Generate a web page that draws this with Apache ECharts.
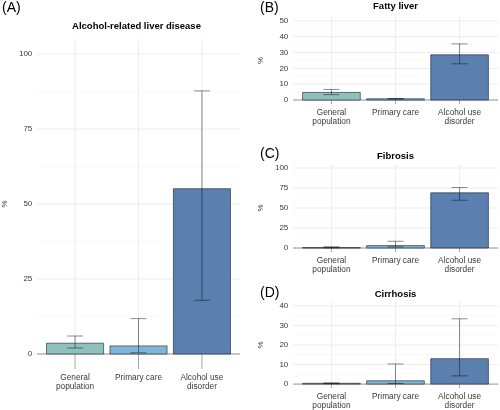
<!DOCTYPE html>
<html>
<head>
<meta charset="utf-8">
<script src="https://cdn.jsdelivr.net/npm/echarts@6/dist/echarts.min.js"></script>
<style>
html,body{margin:0;padding:0;background:#fff;}
#chart{width:500px;height:410px;}
</style>
</head>
<body>
<div id="chart"></div>
<script>
// ---- data ----
var categories = ['General\npopulation', 'Primary care', 'Alcohol use\ndisorder'];

var aldValues = [3.6, 2.7, 55.1];
var aldLower  = [2.0, 0.4, 17.9];
var aldUpper  = [6.0, 11.8, 87.7];
var aldTicks  = [0, 25, 50, 75, 100];

var fattyValues = [4.8, 0.8, 28.6];
var fattyLower  = [3.4, 0.6, 22.9];
var fattyUpper  = [6.7, 1.0, 35.5];
var fattyTicks  = [0, 10, 20, 30, 40, 50];

var fibrosisValues = [0.6, 3.0, 69.0];
var fibrosisLower  = [0.2, 1.3, 59.7];
var fibrosisUpper  = [1.6, 8.4, 75.6];
var fibrosisTicks  = [0, 25, 50, 75, 100];

var cirrhosisValues = [0.4, 1.7, 13.0];
var cirrhosisLower  = [0.2, 0.3, 4.2];
var cirrhosisUpper  = [0.6, 10.3, 33.4];
var cirrhosisTicks  = [0, 10, 20, 30, 40];

var panelTitles = ['Alcohol-related liver disease', 'Fatty liver', 'Fibrosis', 'Cirrhosis'];
var panelLetters = ['(A)', '(B)', '(C)', '(D)'];
var barColors = ['#8fc1bc', '#80b5d5', '#5b80b0'];

// ---- layout ----
var XMIN = -0.6, XMAX = 2.6;
var panels = [
  {values: aldValues, lower: aldLower, upper: aldUpper, ticks: aldTicks,
   grid: {left: 33, width: 207, top: 39, height: 330}},
  {values: fattyValues, lower: fattyLower, upper: fattyUpper, ticks: fattyTicks,
   grid: {left: 293, width: 205, top: 17, height: 87}},
  {values: fibrosisValues, lower: fibrosisLower, upper: fibrosisUpper, ticks: fibrosisTicks,
   grid: {left: 293, width: 205, top: 164, height: 88}},
  {values: cirrhosisValues, lower: cirrhosisLower, upper: cirrhosisUpper, ticks: cirrhosisTicks,
   grid: {left: 293, width: 205, top: 302, height: 86}}
];

var grids = [], xAxes = [], yAxes = [], series = [];
var textColor = '#3a3a3a';

panels.forEach(function (p, gi) {
  var tmin = p.ticks[0], tmax = p.ticks[p.ticks.length - 1];
  var pad = (tmax - tmin) * 0.05;
  var ymin = tmin - pad, ymax = tmax + pad;
  var step = p.ticks[1] - p.ticks[0];
  var minor = [];
  for (var k = 0; k < p.ticks.length - 1; k++) minor.push(p.ticks[k] + step / 2);

  grids.push({left: p.grid.left, width: p.grid.width, top: p.grid.top, height: p.grid.height, containLabel: false});
  xAxes.push({
    type: 'value', gridIndex: gi, min: XMIN, max: XMAX,
    axisLine: {show: false}, axisTick: {show: false}, splitLine: {show: false},
    axisLabel: {
      customValues: [0, 1, 2],
      formatter: function (v) { return categories[Math.round(v)] || ''; },
      margin: 4, fontSize: 8.3, lineHeight: 9, color: textColor, fontFamily: 'Liberation Sans, Arial, sans-serif'
    }
  });
  yAxes.push({
    type: 'value', gridIndex: gi, min: ymin, max: ymax,
    axisLine: {show: false}, axisTick: {show: false}, splitLine: {show: false},
    axisLabel: {customValues: p.ticks, margin: 4.7, fontSize: 8, color: textColor, fontFamily: 'Liberation Sans, Arial, sans-serif'},
    name: '%', nameLocation: 'middle', nameGap: 28, nameRotate: 90,
    nameTextStyle: {fontSize: 8, color: textColor, fontFamily: 'Liberation Sans, Arial, sans-serif'}
  });

  // background grid lines
  var hLines = p.ticks.map(function (v) { return [v, 1]; }).concat(minor.map(function (v) { return [v, 0]; }));
  series.push({
    type: 'custom', xAxisIndex: gi, yAxisIndex: gi, z: 0, silent: true,
    data: hLines,
    renderItem: function (params, api) {
      var v = api.value(0), major = api.value(1) === 1;
      var a = api.coord([XMIN, v]), b = api.coord([XMAX, v]);
      return {type: 'line', shape: {x1: a[0], y1: a[1], x2: b[0], y2: b[1]},
        style: {stroke: major ? '#e8e8e8' : '#f2f2f2', lineWidth: major ? 0.8 : 0.5}};
    }
  });
  // vertical grid lines at categories, plus darker segment below zero, plus zero line
  series.push({
    type: 'custom', xAxisIndex: gi, yAxisIndex: gi, z: 1, silent: true,
    data: [0, 1, 2].map(function (i) { return [i]; }),
    renderItem: function (params, api) {
      var i = api.value(0);
      var top = api.coord([i, ymax]), zero = api.coord([i, 0]), bot = api.coord([i, ymin]);
      var children = [
        {type: 'line', shape: {x1: top[0], y1: top[1], x2: zero[0], y2: zero[1]}, style: {stroke: '#e8e8e8', lineWidth: 0.8}},
        {type: 'line', shape: {x1: zero[0], y1: zero[1], x2: bot[0], y2: bot[1]}, style: {stroke: '#9a9a9a', lineWidth: 0.9}}
      ];
      if (params.dataIndex === 0) {
        var a = api.coord([XMIN, 0]), b = api.coord([XMAX, 0]);
        children.push({type: 'line', shape: {x1: a[0], y1: a[1], x2: b[0], y2: b[1]}, style: {stroke: '#8f8f8f', lineWidth: 0.9}});
      }
      return {type: 'group', children: children};
    }
  });
  // bars
  series.push({
    type: 'custom', xAxisIndex: gi, yAxisIndex: gi, z: 2, silent: true,
    data: p.values.map(function (v, i) { return [i, v]; }),
    renderItem: function (params, api) {
      var i = api.value(0), v = api.value(1);
      var w = api.size([0.9, 0])[0];
      var t = api.coord([i, v]), z = api.coord([i, 0]);
      return {type: 'rect', shape: {x: t[0] - w / 2, y: t[1], width: w, height: Math.max(z[1] - t[1], 0.6)},
        style: {fill: barColors[i], stroke: 'rgba(20,30,45,0.75)', lineWidth: 0.8}};
    }
  });
  // error bars
  series.push({
    type: 'custom', xAxisIndex: gi, yAxisIndex: gi, z: 3, silent: true,
    data: p.values.map(function (v, i) { return [i, p.lower[i], p.upper[i]]; }),
    renderItem: function (params, api) {
      var i = api.value(0);
      var lo = api.coord([i, api.value(1)]), hi = api.coord([i, api.value(2)]);
      var cw = api.size([0.25, 0])[0] / 2;
      var st = {stroke: 'rgba(0,0,0,0.45)', lineWidth: 1};
      return {type: 'group', children: [
        {type: 'line', shape: {x1: lo[0], y1: lo[1], x2: hi[0], y2: hi[1]}, style: st},
        {type: 'line', shape: {x1: hi[0] - cw, y1: hi[1], x2: hi[0] + cw, y2: hi[1]}, style: st},
        {type: 'line', shape: {x1: lo[0] - cw, y1: lo[1], x2: lo[0] + cw, y2: lo[1]}, style: st}
      ]};
    }
  });
});

var titlePos = [[136.5, 26], [395.5, 6.5], [395.5, 156.5], [395.5, 294.3]];
var letterPos = [[2, 8], [260, 8], [260, 154.5], [260, 293.5]];
var graphics = [];
panelTitles.forEach(function (t, i) {
  graphics.push({type: 'text', x: titlePos[i][0], y: titlePos[i][1], silent: true,
    style: {text: t, textAlign: 'center', textVerticalAlign: 'middle', fill: '#000',
      font: 'bold 9.5px "Liberation Sans", Arial, sans-serif'}});
  graphics.push({type: 'text', x: letterPos[i][0], y: letterPos[i][1], silent: true,
    style: {text: panelLetters[i], textAlign: 'left', textVerticalAlign: 'middle', fill: '#000',
      font: '14px "Liberation Sans", Arial, sans-serif'}});
});

var chart = echarts.init(document.getElementById('chart'), null, {renderer: 'canvas'});
chart.setOption({
  animation: false,
  backgroundColor: '#fff',
  grid: grids, xAxis: xAxes, yAxis: yAxes, series: series,
  graphic: graphics
});
</script>
</body>
</html>
